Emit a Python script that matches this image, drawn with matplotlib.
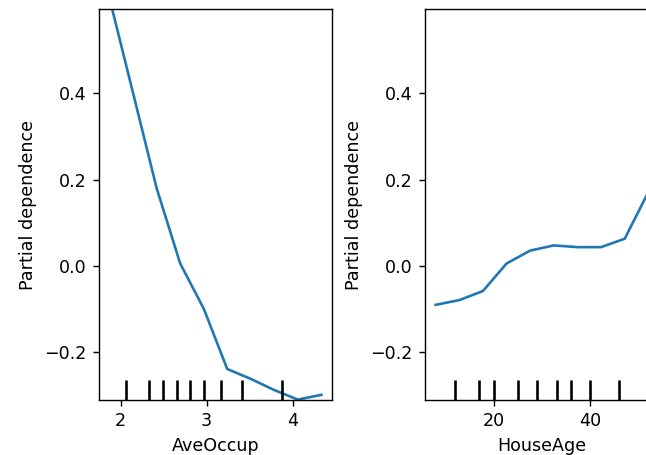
import numpy as np
import matplotlib.pyplot as plt

# valores (partial dependence, grid de 10 puntos)
ave_occup = [1.871, 2.145, 2.418, 2.692, 2.966, 3.239, 3.513, 3.787, 4.060, 4.334]
pd_ave_occup = [0.62, 0.40, 0.18, 0.005, -0.10, -0.24, -0.263, -0.289, -0.311, -0.30]
deciles_ave_occup = [2.06, 2.33, 2.495, 2.658, 2.806, 2.972, 3.163, 3.414, 3.879]

house_age = [8.0, 12.89, 17.78, 22.67, 27.56, 32.44, 37.33, 42.22, 47.11, 52.0]
pd_house_age = [-0.091, -0.080, -0.059, 0.005, 0.035, 0.047, 0.043, 0.043, 0.0625, 0.171]
deciles_house_age = [12, 17, 20, 25, 29, 33, 36, 40, 46]

y_lim = (-0.312, 0.596)


def dibujar_panel(ax, x, pd, deciles, nombre):
    ax.plot(x, pd, color='C0')
    trans = ax.get_xaxis_transform()
    ax.vlines(deciles, 0, 0.05, transform=trans, color='k')
    ax.set_ylim(y_lim)
    ax.set_xlabel(nombre)
    ax.set_ylabel('Partial dependence')


def main():
    W, H = 646, 455
    dpi = 126  # la referencia esta escalada ~1.26x
    fig = plt.figure(figsize=(W / dpi, H / dpi), dpi=dpi)

    ax1 = fig.add_axes([99 / W, 55 / H, 233 / W, 391 / H])
    ax2 = fig.add_axes([425 / W, 55 / H, 234 / W, 391 / H])

    dibujar_panel(ax1, ave_occup, pd_ave_occup, deciles_ave_occup, 'AveOccup')
    dibujar_panel(ax2, house_age, pd_house_age, deciles_house_age, 'HouseAge')

    fig.savefig('out.png', dpi=dpi)


if __name__ == '__main__':
    main()
